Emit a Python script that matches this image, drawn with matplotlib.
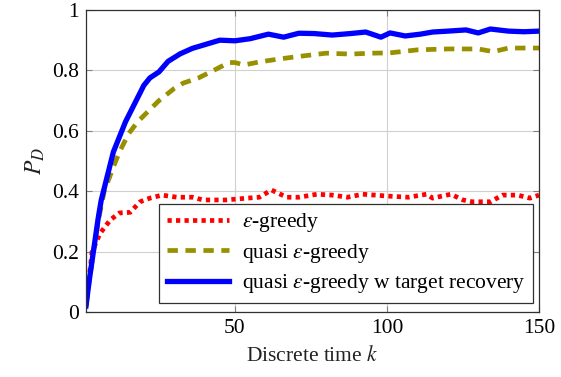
import numpy as np
import matplotlib
matplotlib.use('Agg')
from matplotlib import pyplot as plt

# curve samples (k, P_D)
kGreedy = [1, 3, 5.6, 9, 12, 15.5, 18.8, 22, 26, 31, 36, 39.5, 47, 54, 58, 62, 67, 71, 77,
           82, 87, 92, 100, 107, 113, 115, 121, 125, 128, 134, 138, 143, 147, 150]
pGreedy = [0.02, 0.2, 0.26, 0.305, 0.328, 0.33, 0.365, 0.377, 0.387, 0.38, 0.38, 0.371, 0.371,
           0.377, 0.38, 0.404, 0.38, 0.38, 0.39, 0.387, 0.38, 0.39, 0.384, 0.38, 0.39, 0.377,
           0.39, 0.371, 0.365, 0.365, 0.387, 0.387, 0.377, 0.387]

kQuasi = [1, 3, 5, 7, 10, 12, 15, 18, 21, 25, 30, 33, 38, 43, 48, 50, 53, 58, 64, 70, 75,
          80, 88, 95, 101, 110, 120, 130, 135, 140, 150]
pQuasi = [0.02, 0.17, 0.3, 0.4, 0.48, 0.53, 0.59, 0.63, 0.66, 0.70, 0.74, 0.758, 0.775, 0.80,
          0.826, 0.826, 0.818, 0.828, 0.837, 0.845, 0.851, 0.857, 0.854, 0.857, 0.858, 0.868,
          0.871, 0.871, 0.862, 0.874, 0.874]

kRecov = [1, 2, 3, 4, 5, 6, 8, 10, 12, 14, 16, 18, 20, 22, 25, 28, 32, 36, 40, 45, 50, 55,
          61, 66, 71, 76, 82, 88, 93, 98, 101, 106, 111, 115, 120, 126, 130, 134, 140, 145, 150]
pRecov = [0.02, 0.1, 0.17, 0.24, 0.31, 0.37, 0.45, 0.53, 0.58, 0.63, 0.67, 0.71, 0.75, 0.775,
          0.795, 0.83, 0.855, 0.873, 0.885, 0.90, 0.898, 0.905, 0.92, 0.91, 0.923, 0.922, 0.917,
          0.922, 0.927, 0.91, 0.924, 0.914, 0.92, 0.927, 0.93, 0.934, 0.924, 0.937, 0.93, 0.928,
          0.93]

plt.rc('font', family='Liberation Serif', size=15.5)
plt.rc('mathtext', fontset='stix')

fig = plt.figure(figsize=(5.61, 3.77), dpi=100)
ax = fig.add_axes([0.1533, 0.1724, 0.8075, 0.8011])

ax.plot(kGreedy, pGreedy, color='#ff0000', lw=3.4, ls=(0, (0.9, 0.9)),
        label=r'$\varepsilon$-greedy')
ax.plot(kQuasi, pQuasi, color='#999000', lw=3.4, ls=(0, (2.2, 1.6)),
        label=r'quasi $\varepsilon$-greedy')
ax.plot(kRecov, pRecov, color='#0000ff', lw=3.8,
        label=r'quasi $\varepsilon$-greedy w target recovery')

ax.set_xlim(1, 150)
ax.set_ylim(0, 1)
ax.set_xticks([50, 100, 150])
ax.set_yticks([0, 0.2, 0.4, 0.6, 0.8, 1])
ax.set_yticklabels(['0', '0.2', '0.4', '0.6', '0.8', '1'])
ax.grid(True, color='#d0d0d0', lw=0.8)
ax.set_axisbelow(True)
ax.tick_params(direction='in', color='#808080', length=4, right=True, top=True, pad=5)
for s in ax.spines.values():
    s.set_color('#303030')
    s.set_linewidth(0.9)

ax.set_xlabel(r'Discrete time $k$', color='#222222', labelpad=6)
ax.set_ylabel(r'$P_D$', color='#222222', fontsize=17)

leg = ax.legend(loc='lower right', bbox_to_anchor=(0.987, 0.03), borderaxespad=0,
                fancybox=False, framealpha=1, edgecolor='#303030', handlelength=2.9,
                borderpad=0.35, labelspacing=0.35, handletextpad=0.6)
leg.get_frame().set_linewidth(0.9)

fig.savefig('out.png', dpi=100)
